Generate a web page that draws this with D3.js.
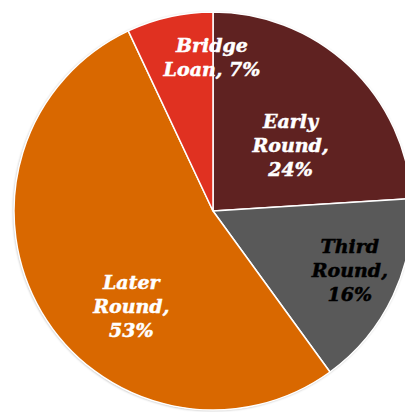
<!DOCTYPE html>
<html><head><meta charset="utf-8">
<script src="https://cdn.jsdelivr.net/npm/d3@7"></script>
<style>html,body{margin:0;padding:0;background:#fff;}svg{display:block;}</style>
</head><body>
<svg id="c" width="405" height="412"></svg>
<script>
const categories = ["Early Round", "Third Round", "Later Round", "Bridge Loan"];
const values = [24, 16, 53, 7];
const labelLines = [["Early", "Round,", "24%"], ["Third", "Round,", "16%"], ["Later", "Round,", "53%"], ["Bridge", "Loan, 7%"]];

const colors = ["#5f2221", "#595959", "#d96800", "#e03121"];
const textColors = ["#ffffff", "#000000", "#ffffff", "#ffffff"];
// label placement: [radius fraction, angle shift in degrees]
const labelPlace = [[0.51, 6.6], [0.75, -1.6], [0.63, -18.7], [0.77, 12.2]];

const svg = d3.select("#c");
const cx = 213, cy = 211, R = 199;
const defs = svg.append("defs");
const f = defs.append("filter").attr("id","sh").attr("x","-10%").attr("y","-10%").attr("width","120%").attr("height","120%");
f.append("feDropShadow").attr("dx",-0.5).attr("dy",0.5).attr("stdDeviation",1.2).attr("flood-color","#000").attr("flood-opacity",0.35);

const g = svg.append("g").attr("transform", `translate(${cx},${cy})`);
const pie = d3.pie().sort(null).value(d => d)(values);
const arc = d3.arc().innerRadius(0).outerRadius(R);

g.append("circle").attr("r", R).attr("fill", "#fff").attr("filter", "url(#sh)");
g.selectAll("path.slice").data(pie).join("path")
  .attr("class","slice")
  .attr("d", arc)
  .attr("fill", (d,i) => colors[i])
  .attr("stroke", "#fff").attr("stroke-width", 1.5).attr("stroke-linejoin","round");

const fs = 19, lh = 24;
pie.forEach((d,i) => {
  const mid = (d.startAngle + d.endAngle)/2 + labelPlace[i][1]*Math.PI/180;
  const r = labelPlace[i][0]*R;
  const x = Math.sin(mid)*r, y = -Math.cos(mid)*r;
  const lines = labelLines[i];
  const t = g.append("text")
    .attr("text-anchor","middle")
    .attr("font-family","Georgia, 'DejaVu Serif', serif")
    .attr("font-weight","bold").attr("font-style","italic")
    .attr("font-size", fs)
    .attr("fill", textColors[i])
    .attr("stroke", textColors[i]).attr("stroke-width", 0.5);
  lines.forEach((ln,k) => {
    t.append("tspan").attr("x", x)
      .attr("y", y + (k - (lines.length-1)/2)*lh)
      .attr("dy","0.35em")
      .text(ln);
  });
});
</script>
</body></html>
